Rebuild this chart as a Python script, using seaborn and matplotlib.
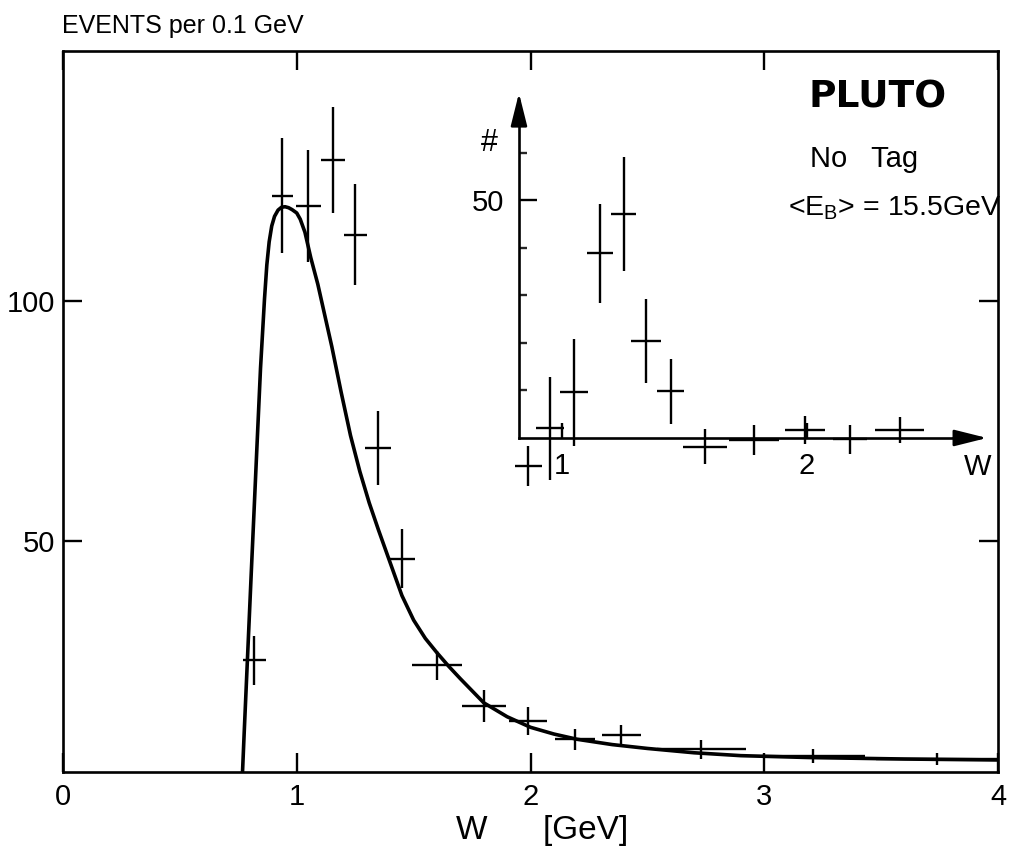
import numpy as np
import pandas as pd
import matplotlib
matplotlib.use("Agg")
import matplotlib.pyplot as plt
import seaborn as sns

# ---------------- data ----------------
# main histogram points: W [GeV], events per 0.1 GeV
main_w = [0.819, 0.938, 1.049, 1.155, 1.250, 1.349, 1.450, 1.600, 1.800, 1.990,
          2.190, 2.389, 2.730, 3.210, 3.740]
main_n = [25.2, 121.9, 119.7, 129.4, 113.8, 69.4, 46.4, 24.2, 15.8, 12.6,
          8.8, 9.8, 6.7, 5.3, 4.7]
main_nerr = [5.0, 12.0, 11.7, 11.0, 10.5, 7.7, 6.2, 3.0, 3.3, 3.0,
             2.2, 1.9, 2.0, 1.5, 1.2]
main_werr = [0.050, 0.046, 0.053, 0.050, 0.050, 0.056, 0.055, 0.108, 0.095, 0.080,
             0.085, 0.083, 0.190, 0.220, 0.260]

# fitted curve
curve_w = [0.768, 0.775, 0.785, 0.795, 0.805, 0.818, 0.830, 0.845, 0.862, 0.872,
           0.882, 0.893, 0.905, 0.920, 0.935, 0.950, 0.965, 0.980, 1.000, 1.015,
           1.035, 1.060, 1.090, 1.120, 1.150, 1.190, 1.230, 1.270, 1.310, 1.350,
           1.400, 1.450, 1.500, 1.550, 1.600, 1.650, 1.700, 1.800, 1.900, 2.000,
           2.100, 2.200, 2.350, 2.500, 2.700, 2.900, 3.200, 3.600, 4.000]
curve_n = [2.0, 10.0, 21.0, 32.0, 43.0, 57.0, 70.0, 86.0, 100.4, 107.5,
           112.3, 115.6, 117.6, 118.9, 119.5, 119.6, 119.4, 119.0, 118.3, 117.0,
           114.3, 109.0, 103.5, 97.0, 90.5, 81.0, 72.0, 64.5, 58.0, 52.3,
           45.5, 38.7, 33.6, 29.8, 26.8, 24.0, 21.4, 16.4, 13.5, 11.3,
           9.9, 8.8, 7.7, 6.9, 6.0, 5.4, 5.0, 4.7, 4.5]

# inset points
ins_w = [0.864, 0.952, 1.050, 1.156, 1.254, 1.344, 1.445, 1.585, 1.785, 1.993, 2.177, 2.380]
ins_n = [-5.9, 2.0, 9.6, 38.9, 47.2, 20.4, 9.8, -1.8, -0.4, 1.7, -0.3, 1.7]
ins_nerr = [4.2, 10.8, 11.2, 10.4, 12.0, 8.8, 6.8, 3.7, 3.2, 3.0, 3.0, 2.8]
ins_werr = [0.054, 0.058, 0.058, 0.053, 0.051, 0.060, 0.056, 0.090, 0.100, 0.083, 0.070, 0.100]

main_xticks = [0, 1, 2, 3, 4]
main_yticks = [50, 100]
ins_xticks = [1, 2]
ins_yticks_major = [50]
ins_yticks_minor = [10, 20, 30, 40, 60]

# ---------------- style ----------------
sns.set_theme(style="ticks")
REG = ["Liberation Sans", "DejaVu Sans"]
plt.rcParams["font.family"] = REG
plt.rcParams["mathtext.fontset"] = "custom"
plt.rcParams["mathtext.rm"] = "Liberation Sans"
plt.rcParams["mathtext.it"] = "Liberation Sans"

W, H = 1011, 868
fig = plt.figure(figsize=(W / 100, H / 100), dpi=100)
fig.patch.set_facecolor("white")

def fx(px):
    return px / W

def fy(py):
    return 1 - py / H

# ---------------- main axes ----------------
ax = fig.add_axes([fx(63), fy(772), (998 - 63) / W, (772 - 51) / H])
ax.set_facecolor("white")

curve_df = pd.DataFrame({"W": curve_w, "N": curve_n})
sns.lineplot(data=curve_df, x="W", y="N", ax=ax, color="black", lw=2.6,
             sort=False, estimator=None)
ax.errorbar(main_w, main_n, yerr=main_nerr, xerr=main_werr, fmt="none",
            ecolor="black", elinewidth=1.7, capsize=0)

ax.set_xlim(0, 4)
ax.set_ylim(2, 152)
ax.set_xticks(main_xticks)
ax.set_xticklabels([str(t) for t in main_xticks])
ax.set_yticks(main_yticks)
ax.set_yticklabels([str(t) for t in main_yticks])
ax.tick_params(direction="in", length=14, width=1.7, top=True, right=True,
               labelsize=21, colors="black")
ax.tick_params(axis="x", pad=8)
ax.tick_params(axis="y", pad=6)
for s in ax.spines.values():
    s.set_linewidth(1.9)
    s.set_color("black")
ax.set_ylabel("")
ax.set_xlabel("W      [GeV]", fontsize=24, color="black", va="top")
ax.xaxis.set_label_coords((542 - 63) / (998 - 63), -(815 - 772) / (772 - 51))

# ---------------- inset ----------------
ax_in = fig.add_axes([fx(505), fy(490), 485 / W, 405 / H])
ax_in.set_facecolor("none")
ax_in.patch.set_alpha(0)
ax_in.set_xlim(0.769, 2.748)
ax_in.set_ylim(-10.95, 74.3)

eb = ax_in.errorbar(ins_w, ins_n, yerr=ins_nerr, xerr=ins_werr, fmt="none",
                    ecolor="black", elinewidth=1.7, capsize=0)
for coll in eb.lines[2]:
    coll.set_clip_on(False)

x0_in = 0.826
for side in ["top", "right"]:
    ax_in.spines[side].set_visible(False)
ax_in.spines["left"].set_position(("data", x0_in))
ax_in.spines["bottom"].set_position(("data", 0))
ax_in.spines["left"].set_bounds(0, 71)
ax_in.spines["bottom"].set_bounds(x0_in, 2.70)
for s in ["left", "bottom"]:
    ax_in.spines[s].set_linewidth(1.9)
    ax_in.spines[s].set_color("black")

ax_in.set_yticks(ins_yticks_major)
ax_in.set_yticklabels([str(t) for t in ins_yticks_major])
ax_in.set_yticks(ins_yticks_minor, minor=True)
ax_in.set_xticks(ins_xticks)
ax_in.set_xticklabels([str(t) for t in ins_xticks])
ax_in.tick_params(axis="y", which="major", direction="in", length=13, width=1.7,
                  labelsize=21, pad=11, colors="black")
ax_in.tick_params(axis="y", which="minor", direction="in", length=6, width=1.7)
ax_in.tick_params(axis="x", which="major", direction="in", length=11, width=1.7,
                  labelsize=21, pad=10, colors="black")

arrow = dict(arrowstyle="-|>,head_length=0.8,head_width=0.2", color="black",
             lw=1.9, mutation_scale=25, shrinkA=0, shrinkB=0)
ax_in.annotate("", xy=(2.736, 0), xytext=(2.60, 0), arrowprops=arrow,
               annotation_clip=False)
ax_in.annotate("", xy=(x0_in, 72.6), xytext=(x0_in, 66), arrowprops=arrow,
               annotation_clip=False)
ax_in.text(0.707, 62.1, "#", fontsize=22, ha="center", va="center",
           color="black", clip_on=False)
ax_in.text(2.752, -6.2, "W", fontsize=21, ha="right", va="center", color="black",
           clip_on=False)

# ---------------- texts ----------------
fig.text(fx(62), fy(33), "EVENTS per 0.1 GeV", fontsize=18, ha="left",
         va="baseline", color="black")
fig.text(fx(808), fy(107), "PLUTO", fontsize=27, fontweight="bold",
         family=["DejaVu Sans"], ha="left", va="baseline", color="black")
fig.text(fx(810), fy(167), "No   Tag", fontsize=21, ha="left",
         va="baseline", color="black")
fig.text(fx(788), fy(215), r"<E$_{\rm B}$> = 15.5GeV", fontsize=20.5,
         ha="left", va="baseline", color="black")

fig.savefig("out.png", dpi=100, facecolor="white")
